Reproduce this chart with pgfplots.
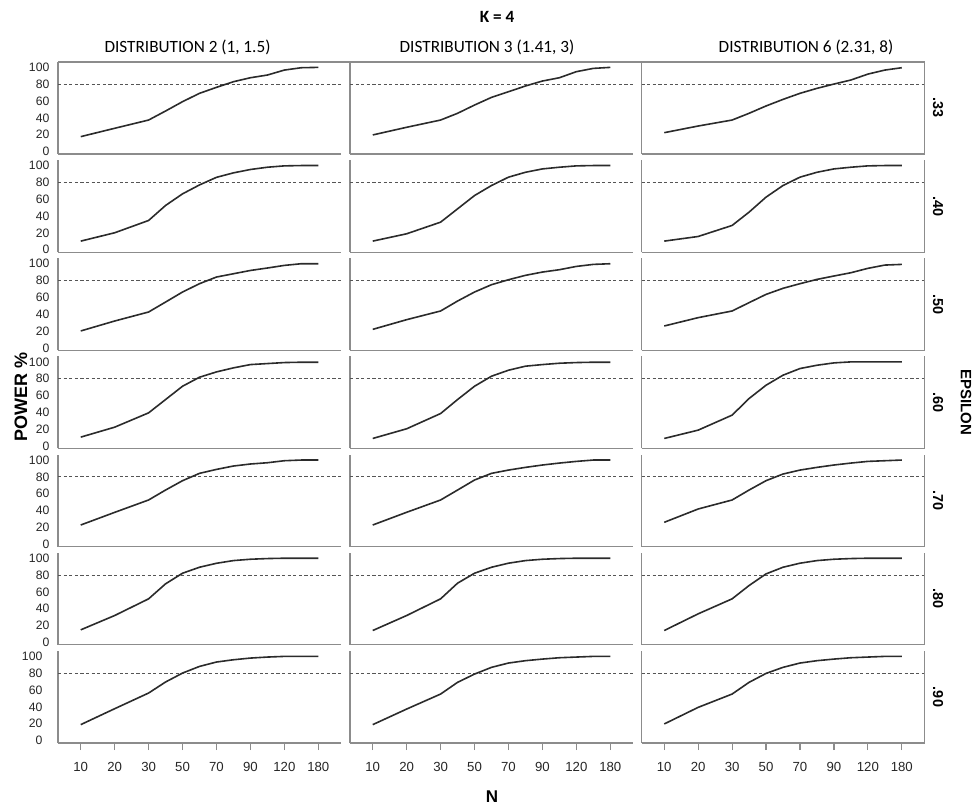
\documentclass[border=0pt]{standalone}
\usepackage{pgfplots}
\pgfplotsset{compat=1.18}
\usepackage{pgfplotstable}
\usepackage{fontspec}
\setmainfont{Liberation Sans}
\newfontfamily\carlito{Carlito}

\definecolor{axisgray}{HTML}{8C8C8C}
\definecolor{curvecol}{HTML}{2B2B2B}
\definecolor{refcol}{HTML}{555555}

% N mapped to equally spaced ordinal positions (10,20,30,50,70,90,120,180 at 0..7)
\pgfplotstableread{
pos N   e33   e40   e50   e60   e70   e80   e90
0   10  17.8  10.3  20.2  10.7  22.9  15.0  19.0
1   20  27.7  20.2  32.0  22.5  37.9  32.0  37.9
2   30  37.5  34.8  42.7  39.5  52.6  51.8  56.5
2.5 40  48.2  52.6  54.5  55.3  64.4  69.6  69.6
3   50  59.3  66.4  66.4  71.1  75.5  82.2  80.2
3.5 60  69.2  77.0  76.3  81.8  84.2  89.3  88.1
4   70  76.3  86.0  84.2  88.1  88.9  94.0  93.3
4.5 80  83.0  91.3  88.1  92.9  92.9  97.2  96.0
5   90  87.7  95.3  92.0  96.8  95.3  98.8  98.0
5.5 100 90.9  98.0  94.9  98.0  96.8  99.6  99.2
6   120 96.8  99.6  98.0  99.2  99.2  100   100
6.5 150 99.6  100   100   99.6  100   100   100
7   180 100   100   100   99.6  100   100   100
}\distB

\pgfplotstableread{
pos N   e33   e40   e50   e60   e70   e80   e90
0   10  19.8  10.3  22.1   9.1  22.9  14.2  19.0
1   20  28.9  19.0  33.6  20.6  38.0  32.0  37.5
2   30  37.5  32.8  43.9  38.7  52.6  51.8  55.3
2.5 40  45.5  48.6  55.7  55.3  64.4  70.4  69.2
3   50  55.3  64.4  66.4  71.1  76.3  82.2  79.0
3.5 60  64.4  76.3  75.1  83.0  84.2  89.3  87.0
4   70  71.1  86.2  81.0  90.1  88.1  94.1  92.1
4.5 80  77.9  92.0  86.2  94.9  91.3  97.2  94.9
5   90  83.8  96.0  90.1  96.8  94.1  98.8  96.8
5.5 100 87.7  98.0  92.9  98.4  96.4  99.6  98.4
6   120 94.9  99.6  96.8  99.2  98.4  100   99.2
6.5 150 98.8  100   99.2  99.6  100   100   100
7   180 100   100   100   99.6  100   100   100
}\distC

\pgfplotstableread{
pos N   e33   e40   e50   e60   e70   e80   e90
0   10  22.5  10.3  26.1   9.1  26.1  14.2  19.8
1   20  30.4  15.8  36.0  19.0  41.9  34.0  39.5
2   30  37.5  28.9  43.9  36.8  52.6  51.8  55.3
2.5 40  45.5  44.7  53.8  56.5  64.4  67.6  69.2
3   50  54.2  62.5  63.6  72.3  75.5  81.4  79.8
3.5 60  62.0  76.3  70.8  84.2  83.4  89.3  87.0
4   70  69.2  86.2  76.3  92.1  88.1  94.1  92.1
4.5 80  75.1  92.0  81.4  96.0  91.3  97.2  94.9
5   90  80.2  96.0  85.4  98.8  94.1  98.8  96.8
5.5 100 85.0  98.0  89.3  100   96.4  99.6  98.4
6   120 92.0  99.6  94.5  100   98.4  100   99.2
6.5 150 96.8  100   98.4  100   99.2  100   100
7   180 99.6  100   99.2  100   100   100   100
}\distF

\pgfplotsset{
  panel/.style={
    scale only axis, width=141.5pt, height=46pt, anchor=south west,
    xmin=-0.67, xmax=7.67, ymin=-2.8, ymax=106.4,
    axis x line*=bottom, axis y line*=left,
    axis line style={-, draw=axisgray, line width=0.6pt},
    xtick={0,...,7}, xticklabels={}, xtick style={draw=none},
    ytick={0,20,...,100}, yticklabels={}, ytick style={draw=none},
    /pgf/number format/assume math mode=true,
  },
  bottomrow/.style={
    xticklabels={10,20,30,50,70,90,120,180},
    tick align=outside, major tick length=3.5pt,
    xtick style={draw=axisgray, line width=0.6pt},
    xticklabel style={font=\fontsize{6.6}{7}\selectfont, text=black!85, yshift=-2.5pt},
  },
  leftcol/.style={
    yticklabels={0,20,40,60,80,100},
    yticklabel style={font=\fontsize{6.1}{6.5}\selectfont, text=black!85, xshift=-0.8pt},
  },
  toprow/.style={
    extra description/.append code={\draw[axisgray, line width=0.6pt] (0,1) -- (1.035,1);},
  },
  rightcol/.style={
    extra description/.append code={\draw[axisgray, line width=0.6pt] (0,1) -- (1,1) -- (1,0);},
  },
  rightcolmid/.style={
    extra description/.append code={\draw[axisgray, line width=0.6pt] (1,0) -- (1,1);},
  },
}

\newcommand{\panel}[5][]{%
  \begin{axis}[panel, at={(#2pt,#3pt)}, #1]
    \addplot[refcol, line width=0.55pt, dash pattern=on 1.6pt off 1.2pt] coordinates {(-0.67,80) (7.67,80)};
    \addplot[curvecol, line width=0.8pt, no marks] table[x=pos, y=#5] {#4};
  \end{axis}}

\begin{document}
\begin{tikzpicture}
\useasboundingbox (0,0) rectangle (489pt,404pt);

% row .33
\panel[leftcol, toprow]{29}{327}{\distB}{e33}
\panel[toprow]{175}{327}{\distC}{e33}
\panel[rightcol]{320.75}{327}{\distF}{e33}
% row .40
\panel[leftcol]{29}{277.92}{\distB}{e40}
\panel{175}{277.92}{\distC}{e40}
\panel[rightcolmid]{320.75}{277.92}{\distF}{e40}
% row .50
\panel[leftcol]{29}{228.83}{\distB}{e50}
\panel{175}{228.83}{\distC}{e50}
\panel[rightcolmid]{320.75}{228.83}{\distF}{e50}
% row .60
\panel[leftcol]{29}{179.75}{\distB}{e60}
\panel{175}{179.75}{\distC}{e60}
\panel[rightcolmid]{320.75}{179.75}{\distF}{e60}
% row .70
\panel[leftcol]{29}{130.67}{\distB}{e70}
\panel{175}{130.67}{\distC}{e70}
\panel[rightcolmid]{320.75}{130.67}{\distF}{e70}
% row .80
\panel[leftcol]{29}{81.58}{\distB}{e80}
\panel{175}{81.58}{\distC}{e80}
\panel[rightcolmid]{320.75}{81.58}{\distF}{e80}
% row .90
\panel[leftcol, bottomrow]{29}{32.5}{\distB}{e90}
\panel[bottomrow]{175}{32.5}{\distC}{e90}
\panel[rightcolmid, bottomrow]{320.75}{32.5}{\distF}{e90}

% titles and labels
\node[font=\carlito\bfseries\fontsize{8.6}{10}\selectfont] at (248.5pt,395.5pt) {K = 4};
\begin{scope}[every node/.style={font=\carlito\fontsize{8.6}{10}\selectfont}]
\node at (93.75pt,380.5pt) {DISTRIBUTION 2 (1, 1.5)};
\node at (243.5pt,380.5pt) {DISTRIBUTION 3 (1.41, 3)};
\node at (403pt,380.5pt) {DISTRIBUTION 6 (2.31, 8)};
\end{scope}
\node[font=\bfseries\fontsize{9}{10}\selectfont, rotate=90] at (10.5pt,205.5pt) {POWER \%};
\node[font=\bfseries\fontsize{8.5}{9}\selectfont] at (246pt,5.5pt) {N};
\node[font=\bfseries\fontsize{7.5}{8}\selectfont, rotate=-90] at (483pt,203pt) {EPSILON};
\begin{scope}[every node/.style={font=\bfseries\fontsize{7.2}{8}\selectfont, rotate=-90}]
\node at (469pt,350pt) {.33};
\node at (469pt,300.92pt) {.40};
\node at (469pt,251.83pt) {.50};
\node at (469pt,202.75pt) {.60};
\node at (469pt,153.67pt) {.70};
\node at (469pt,104.58pt) {.80};
\node at (469pt,55.5pt) {.90};
\end{scope}
\end{tikzpicture}
\end{document}
